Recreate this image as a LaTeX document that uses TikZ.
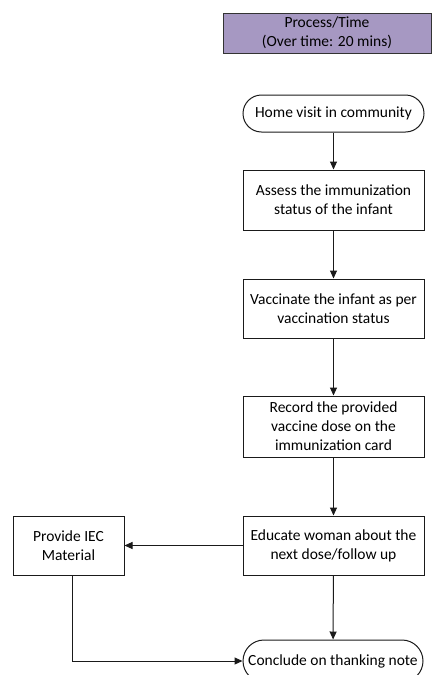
\documentclass[tikz,border=0pt]{standalone}
\usepackage{fontspec}
\setmainfont{Carlito}
\usetikzlibrary{shapes.misc,arrows.meta}
\definecolor{hdrfill}{HTML}{A698C2}
\definecolor{lineclr}{HTML}{1A1A1A}
\tikzset{
  base/.style={draw=lineclr, line width=1pt, inner sep=0pt, align=center,
    font=\fontsize{15.5}{19}\selectfont},
  procbox/.style={base, rectangle, minimum width=181pt},
  termbox/.style={base, rounded rectangle, minimum width=181pt, minimum height=37pt},
  hdrbox/.style={base, rectangle, fill=hdrfill, draw=black!80, minimum width=208pt, minimum height=40pt},
  conn/.style={draw=lineclr, line width=1pt, -{Triangle[length=8pt,width=7pt]}}
}
\begin{document}
\begin{tikzpicture}[x=1pt,y=-1pt]
\useasboundingbox (0,0) rectangle (435,675);
\node[hdrbox] (hdr) at (327,33) {Process/Time\\(Over time: 20 mins)};
\node[termbox] (home) at (333.5,113.5) {Home visit in community};
\node[procbox, minimum height=60pt] (assess) at (333.5,200) {Assess the immunization\\status of the infant};
\node[procbox, minimum height=59pt] (vacc) at (333.5,308.5) {Vaccinate the infant as per\\vaccination status};
\node[procbox, minimum height=61pt] (record) at (333.5,426.5) {Record the provided\\vaccine dose on the\\immunization card};
\node[procbox, minimum height=59pt] (educate) at (333.5,545.5) {Educate woman about the\\next dose/follow up};
\node[procbox, minimum width=111pt, minimum height=59pt] (iec) at (68.5,545.5) {Provide IEC\\Material};
\node[termbox, minimum width=180pt, minimum height=42pt] (conclude) at (333,661) {Conclude on thanking note};
\draw[conn] (home) -- (assess);
\draw[conn] (assess) -- (vacc);
\draw[conn] (vacc) -- (record);
\draw[conn] (record) -- (educate);
\draw[conn] (educate) -- (iec);
\draw[conn] (educate) -- (conclude);
\draw[conn] ([xshift=4pt]iec.south) |- (conclude.west);
\end{tikzpicture}
\end{document}
